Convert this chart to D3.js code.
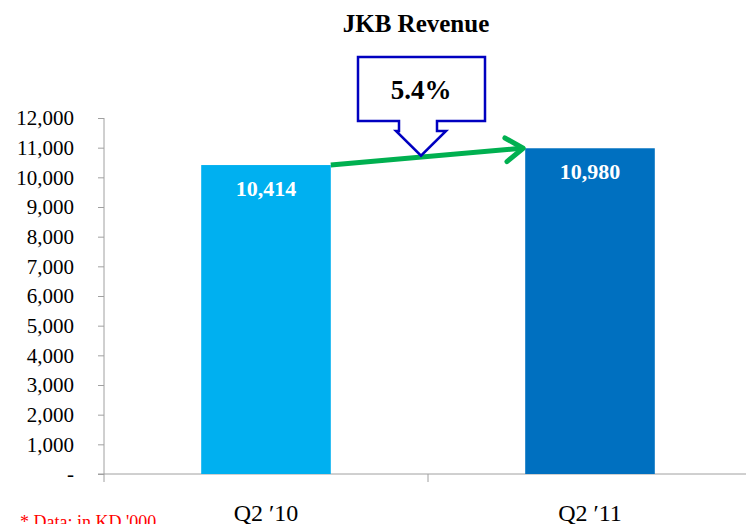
<!DOCTYPE html>
<html>
<head>
<meta charset="utf-8">
<script src="https://cdn.jsdelivr.net/npm/d3@7"></script>
<style>
  body { margin: 0; background: #fff; }
  text { font-family: "Liberation Serif", "DejaVu Serif", serif; }
</style>
</head>
<body>
<div id="chart"></div>
<script>
// chart data
const periods = ["Q2 \u203210", "Q2 \u203211"];
const revenue = [10414, 10980];
const barColors = ["#00b0f0", "#0070c0"];
const yTicks = [0, 1000, 2000, 3000, 4000, 5000, 6000, 7000, 8000, 9000, 10000, 11000, 12000];
const growthLabel = "5.4%";

const w = 746;
const h = 524;

const svg = d3.select("#chart").
append("svg").
attr("width", w).
attr("height", h);

// scales
const x = d3.scaleBand().domain(periods).range([104, 752]).paddingInner(0).paddingOuter(0);
const y = d3.scaleLinear().domain([0, 12000]).range([474, 118]);
const barW = x.bandwidth() * 0.4;

// title
svg.append("text").
attr("x", 416).
attr("y", 32).
attr("text-anchor", "middle").
attr("font-size", 25).
attr("font-weight", "bold").
text("JKB Revenue");

// y axis
const yAxis = svg.append("g").attr("transform", "translate(104,0)").
call(d3.axisLeft(y).tickValues(yTicks).tickSize(6).tickSizeOuter(0).
tickFormat(d => d === 0 ? "-" : d3.format(",")(d)));
yAxis.select(".domain").attr("stroke", "#a0a0a0").attr("d", "M0,118V482");
yAxis.selectAll(".tick line").attr("stroke", "#a0a0a0");
yAxis.selectAll(".tick text").
attr("x", -30).
attr("font-size", 21).
attr("fill", "#000");

// x axis
const xAxis = svg.append("g").attr("transform", "translate(0,474)");
xAxis.append("line").attr("x1", 98).attr("x2", 746).attr("stroke", "#a0a0a0");
xAxis.selectAll("line.cat").
data(periods.slice(1)).
enter().
append("line").
attr("class", "cat").
attr("x1", d => x(d)).attr("x2", d => x(d)).
attr("y1", 0).attr("y2", 8).
attr("stroke", "#a0a0a0");

svg.selectAll("text.cat").
data(periods).
enter().
append("text").
attr("class", "cat").
attr("x", d => x(d) + x.bandwidth() / 2).
attr("y", 521).
attr("text-anchor", "middle").
attr("font-size", 24).
text(d => d);

// bars
svg.selectAll("rect.bar").
data(revenue).
enter().
append("rect").
attr("class", "bar").
attr("x", (d, i) => x(periods[i]) + (x.bandwidth() - barW) / 2).
attr("y", d => y(d)).
attr("width", barW).
attr("height", d => y(0) - y(d)).
attr("fill", (d, i) => barColors[i]);

// value labels
svg.selectAll("text.val").
data(revenue).
enter().
append("text").
attr("class", "val").
attr("x", (d, i) => x(periods[i]) + x.bandwidth() / 2).
attr("y", d => y(d) + 31).
attr("text-anchor", "middle").
attr("font-size", 22).
attr("font-weight", "bold").
attr("fill", "#fff").
text(d => d3.format(",")(d));

// green growth arrow from bar 1 top-right to bar 2 top-left
const x0 = x(periods[0]) + (x.bandwidth() + barW) / 2;
const y0 = y(revenue[0]);
const x1 = x(periods[1]) + (x.bandwidth() - barW) / 2 - 2;
const y1 = y(revenue[1]);
const ang = Math.atan2(y1 - y0, x1 - x0);
const headLen = 21;
svg.append("line").
attr("x1", x0).attr("y1", y0).attr("x2", x1 - 2).attr("y2", y1).
attr("stroke", "#00b050").attr("stroke-width", 5);
svg.append("path").
attr("d", `M${x1 - headLen * Math.cos(ang - 0.6)},${y1 - headLen * Math.sin(ang - 0.6)}L${x1},${y1}L${x1 - headLen * Math.cos(ang + 0.6)},${y1 - headLen * Math.sin(ang + 0.6)}`).
attr("fill", "none").
attr("stroke", "#00b050").
attr("stroke-width", 5).
attr("stroke-linecap", "round").
attr("stroke-linejoin", "round");

// callout box with down arrow
const cx = 421;
const tipY = (y0 + y1) / 2 - 1;
svg.append("path").
attr("d", `M358,57H485V121H${cx + 16}V131H${cx + 25}L${cx},${tipY}L${cx - 25},131H${cx - 22}V121H358Z`).
attr("fill", "#fff").
attr("stroke", "#0000c0").
attr("stroke-width", 2.5).
attr("stroke-linejoin", "miter");

svg.append("text").
attr("x", cx).
attr("y", 99).
attr("text-anchor", "middle").
attr("font-size", 27).
attr("font-weight", "bold").
text(growthLabel);

// footnote
svg.append("text").
attr("x", 20).
attr("y", 528).
attr("font-size", 18).
attr("fill", "#ff0000").
text("* Data: in  KD '000");
</script>
</body>
</html>
